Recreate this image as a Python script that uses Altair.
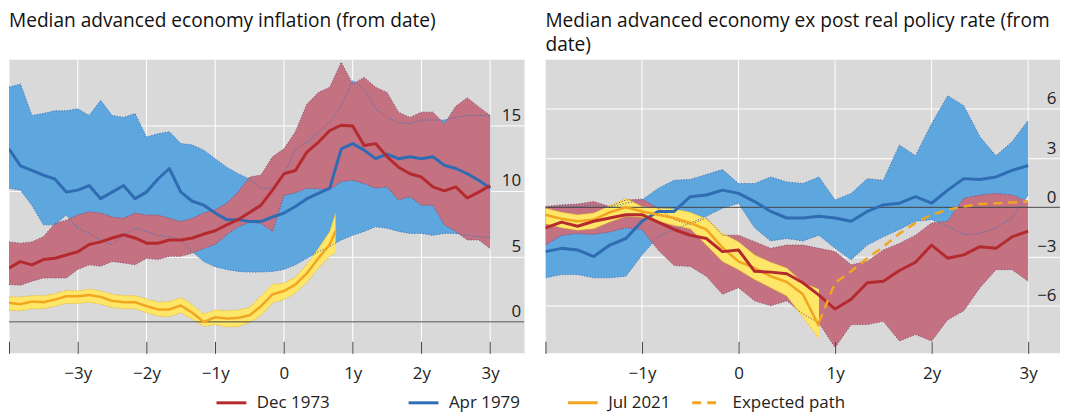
import altair as alt
import pandas as pd

# ---------------- data ----------------
PAST = ["Dec 1973", "Apr 1979"]
NOW = ["Jul 2021", "Expected path"]

# Left panel: inflation, months from date, every 2 months
L_MONTHS = list(range(-48, 37, 2))
apr79_inf_med = [13.2, 11.9, 11.55, 11.2, 10.9, 9.9, 10.05, 10.4, 9.4, 9.9, 10.4, 9.4, 9.9, 10.9, 11.7,
                 9.9, 9.2, 8.9, 8.3, 7.8, 7.8, 7.65, 7.65, 8.0, 8.3, 8.8, 9.4, 9.8, 10.2, 13.2, 13.6, 13.1,
                 12.45, 12.8, 12.45, 12.6, 12.45, 12.6, 11.95, 11.7, 11.3, 10.8, 10.2]
apr79_inf_hi = [17.9, 18.15, 15.75, 15.9, 16.1, 16.1, 16.25, 15.75, 16.9, 15.75, 15.6, 15.9, 14.1, 14.35,
                14.5, 13.6, 13.5, 13.1, 12.45, 11.8, 11.3, 10.9, 10.2, 10.2, 11.2, 13.2, 13.7, 14.5, 15.2,
                16.5, 18.4, 17.8, 16.25, 15.6, 15.2, 15.1, 15.4, 15.4, 15.4, 15.6, 15.75, 15.75, 15.75]
apr79_inf_lo = [10.2, 10.05, 8.9, 7.4, 7.4, 8.15, 7.15, 6.75, 6.25, 5.9, 6.6, 7.15, 6.9, 6.6, 6.5, 6.25,
                5.35, 4.6, 4.2, 4.0, 3.85, 3.8, 3.8, 3.85, 4.0, 4.35, 4.85, 5.35, 5.75, 6.25, 6.6, 6.9,
                7.25, 7.15, 6.9, 6.75, 6.75, 6.6, 6.75, 6.75, 6.6, 6.5, 6.4]
dec73_inf_med = [4.1, 4.6, 4.35, 4.75, 4.85, 5.1, 5.35, 5.9, 6.1, 6.4, 6.65, 6.4, 6.0, 6.0, 6.25, 6.25,
                 6.4, 6.7, 6.95, 7.4, 7.8, 8.35, 8.9, 10.05, 11.3, 11.55, 12.95, 13.7, 14.6, 15.0, 14.95,
                 13.45, 13.6, 12.6, 11.8, 11.3, 11.05, 10.3, 10.0, 10.3, 9.45, 9.9, 10.4]
dec73_inf_hi = [6.1, 6.0, 6.1, 6.5, 7.5, 7.75, 8.15, 8.4, 8.3, 8.0, 7.9, 8.3, 8.15, 8.15, 7.9, 7.65, 7.9,
                8.3, 8.55, 9.05, 9.9, 11.05, 11.2, 12.6, 13.2, 14.5, 16.6, 17.5, 17.9, 19.8, 18.15, 18.65,
                17.9, 17.5, 16.0, 15.6, 16.0, 16.0, 15.1, 16.45, 17.1, 16.4, 15.75]
dec73_inf_lo = [2.85, 2.8, 3.1, 3.35, 3.35, 3.35, 4.0, 4.35, 4.25, 4.6, 4.5, 4.35, 4.85, 4.75, 5.0, 5.0,
                5.25, 5.6, 5.9, 6.65, 7.25, 7.6, 7.5, 6.9, 9.65, 9.85, 10.2, 10.15, 10.1, 10.7, 10.8,
                10.55, 10.2, 10.3, 9.3, 9.55, 8.9, 8.9, 7.4, 6.9, 6.25, 6.25, 5.6]
JUL21_INF_MONTHS = list(range(-48, 9, 2)) + [9]
jul21_inf_med = [1.45, 1.35, 1.55, 1.5, 1.7, 1.95, 1.95, 2.05, 1.9, 1.6, 1.5, 1.5, 1.2, 0.95, 0.95, 1.25,
                 0.7, 0.0, 0.35, 0.25, 0.3, 0.5, 1.2, 2.1, 2.35, 2.85, 3.7, 4.85, 5.9, 6.95]
jul21_inf_hi = [1.9, 1.9, 2.0, 2.0, 2.15, 2.4, 2.35, 2.5, 2.35, 2.1, 2.0, 2.0, 1.75, 1.5, 1.55, 1.85, 1.3,
                0.6, 0.9, 0.85, 0.9, 1.1, 2.0, 2.85, 2.95, 3.4, 4.4, 5.6, 6.9, 8.3]
jul21_inf_lo = [0.9, 0.85, 1.0, 1.0, 1.2, 1.4, 1.4, 1.5, 1.35, 1.1, 1.0, 1.0, 0.7, 0.45, 0.4, 0.7, 0.2,
                -0.35, -0.2, -0.4, -0.35, -0.05, 0.5, 1.45, 1.7, 2.2, 3.0, 4.1, 5.0, 5.3]

# Right panel: ex post real policy rate
R_MONTHS = list(range(-24, 37, 2))
apr79_rr_med = [-2.7, -2.5, -2.6, -3.0, -2.3, -1.9, -0.85, -0.25, -0.25, 0.65, 0.75, 1.05, 0.85, 0.35,
                -0.25, -0.65, -0.65, -0.55, -0.65, -0.85, -0.25, 0.15, 0.25, 0.65, 0.25, 1.05, 1.75, 1.7,
                1.85, 2.25, 2.55]
apr79_rr_hi = [-0.05, 0.1, 0.05, 0.15, 0.0, 0.25, 0.45, 1.15, 1.65, 1.7, 2.0, 2.3, 1.45, 1.45, 1.85, 1.55,
               1.45, 1.85, 0.45, 0.85, 1.75, 1.65, 3.8, 3.15, 5.1, 6.8, 6.2, 4.3, 3.15, 4.0, 5.3]
apr79_rr_lo = [-4.3, -4.1, -4.1, -4.3, -4.3, -4.2, -2.9, -1.8, -1.35, -0.95, -0.55, -0.05, 0.25, -1.25,
               -2.05, -1.9, -2.05, -1.7, -2.5, -3.2, -2.3, -1.8, -1.35, -0.85, -0.75, -1.15, -1.65, -1.6,
               -1.25, -0.65, 0.75]
dec73_rr_med = [-1.25, -0.9, -1.15, -0.85, -0.65, -0.45, -0.45, -0.9, -1.35, -1.7, -1.9, -2.7, -2.6, -3.9,
                -3.95, -4.05, -4.6, -5.35, -6.2, -5.6, -4.6, -4.5, -3.85, -3.35, -2.3, -3.1, -2.9, -2.4,
                -2.5, -1.8, -1.45]
dec73_rr_hi = [0.05, 0.15, 0.2, 0.35, 0.05, 0.45, 0.5, -0.05, -0.75, -1.05, -0.65, -1.7, -1.7, -2.1, -2.5,
               -2.3, -2.3, -2.5, -2.7, -3.5, -3.3, -2.6, -2.2, -1.7, -0.95, -0.85, 0.55, 0.75, 0.85, 0.75,
               0.35]
dec73_rr_lo = [-2.3, -1.7, -1.6, -1.65, -1.5, -1.25, -1.35, -2.6, -3.55, -3.6, -4.2, -5.3, -4.9, -5.7, -6.0,
               -5.7, -6.5, -7.05, -8.55, -7.15, -7.15, -6.95, -8.15, -7.75, -8.15, -6.85, -6.3, -4.9,
               -3.8, -3.8, -4.5]
JUL21_RR_MONTHS = list(range(-24, 11, 2))
jul21_rr_med = [-0.45, -0.7, -0.85, -0.75, -0.3, 0.0, -0.25, -0.45, -0.65, -0.95, -1.35, -2.45, -3.3,
                -3.7, -4.2, -4.55, -5.3, -7.25]
jul21_rr_hi = [-0.05, -0.3, -0.45, -0.35, 0.1, 0.55, 0.05, -0.05, -0.1, -0.3, -0.7, -1.6, -2.1, -2.9,
               -3.35, -3.7, -4.6, -5.0]
jul21_rr_lo = [-1.0, -1.25, -1.4, -1.3, -0.9, -0.55, -0.6, -0.85, -1.1, -1.3, -2.3, -3.3, -3.8, -4.4,
               -4.9, -5.4, -6.7, -8.0]
EXP_MONTHS = list(range(10, 37, 2))
expected_path = [-7.0, -4.6, -3.9, -3.1, -2.4, -1.6, -0.95, -0.45, -0.15, 0.05, 0.2, 0.25, 0.3, 0.35]

L_XTICKS = [-4, -3, -2, -1, 0, 1, 2, 3]
R_XTICKS = [-2, -1, 0, 1, 2, 3]
L_YTICKS = [0, 5, 10, 15]
R_YTICKS = [-9, -6, -3, 0, 3, 6]

# ---------------- styles ----------------
FONT = "Open Sans"
BG = "#d9d9d9"
BLUE_BAND, RED_BAND, YEL_BAND = "#5ea6de", "#c47282", "#fde668"
BLUE_EDGE, RED_EDGE, YEL_EDGE = "#3b74b8", "#8f4a6e", "#e9b51f"
RED, BLUE, ORANGE = "#b52a2f", "#2f6cb3", "#f2a521"

LEG = dict(title=None, orient="none", direction="horizontal", symbolType="stroke", symbolSize=900,
           symbolStrokeWidth=3, labelFont=FONT, labelFontSize=17, labelColor="#222", labelOffset=9)
legend_past = alt.Legend(legendX=207, legendY=328, columnPadding=72, **LEG)
legend_now = alt.Legend(legendX=560, legendY=328, columnPadding=15, **LEG)
past_color = alt.Color("series:N", scale=alt.Scale(domain=PAST, range=[RED, BLUE]), legend=legend_past)
now_stroke = alt.Stroke("series:N", scale=alt.Scale(domain=NOW, range=[ORANGE, ORANGE]), legend=legend_now)
now_dash = alt.StrokeDash("series:N", scale=alt.Scale(domain=NOW, range=[[1, 0], [9, 6]]), legend=legend_now)


def band_df(months, lo, hi):
    return pd.DataFrame({"x": [m / 12 for m in months], "lo": lo, "hi": hi})


def line_df(months, vals, name):
    return pd.DataFrame({"x": [m / 12 for m in months], "v": vals, "series": name})


def panel(bands, lines, x_dom, y_dom, x_ticks, y_ticks, width, title, title_offset):
    xs = alt.Scale(domain=x_dom, nice=False, zero=False, padding=0)
    ys = alt.Scale(domain=y_dom, nice=False, zero=False, padding=0)
    first = x_ticks[0]
    label_expr = (f"datum.value <= {first} ? '' : datum.value == 0 ? '0' : "
                  "datum.value < 0 ? '\u2212' + (-datum.value) + 'y' : datum.value + 'y'")
    x_axis = alt.Axis(values=x_ticks, grid=False, domain=False, ticks=True, tickColor="#444",
                      tickSize=12, offset=-12, labelExpr=label_expr, labelFont=FONT, labelFontSize=17,
                      labelColor="#222", labelPadding=12, labelFlush=False, title=None, zindex=1)
    y_axis = alt.Axis(values=y_ticks, orient="right", grid=True, gridColor="white", gridWidth=1,
                      domain=False, ticks=False, tickSize=0, labelAlign="right", labelBaseline="bottom",
                      labelPadding=-4, labelOffset=-1, labelFont=FONT, labelFontSize=17,
                      labelColor="#222", title=None, zindex=0)

    layers = []
    layers.append(alt.Chart(pd.DataFrame({"v": x_ticks})).mark_rule(
        color="white", strokeWidth=1, clip=True).encode(x=alt.X("v:Q", scale=xs, axis=x_axis)))
    for df, fill, _ in bands:
        layers.append(alt.Chart(df).mark_area(color=fill, opacity=1, clip=True).encode(
            x=alt.X("x:Q", scale=xs, axis=x_axis), y=alt.Y("lo:Q", scale=ys, axis=y_axis), y2="hi:Q"))
    for df, _, edge in bands:
        for col in ("lo", "hi"):
            layers.append(alt.Chart(df).mark_line(
                color=edge, strokeWidth=1, strokeDash=[1.2, 1.6], clip=True, strokeJoin="round").encode(
                x=alt.X("x:Q", scale=xs, axis=x_axis), y=alt.Y(f"{col}:Q", scale=ys, axis=y_axis)))
    layers.append(alt.Chart(pd.DataFrame({"z": [0]})).mark_rule(
        color="#444", strokeWidth=1, clip=True).encode(y=alt.Y("z:Q", scale=ys, axis=y_axis)))
    for df, w, kind in lines:
        enc = dict(x=alt.X("x:Q", scale=xs, axis=x_axis), y=alt.Y("v:Q", scale=ys, axis=y_axis))
        if kind == "past":
            enc["color"] = past_color
        else:
            enc["stroke"] = now_stroke
            enc["strokeDash"] = now_dash
        layers.append(alt.Chart(df).mark_line(strokeWidth=w, clip=True, strokeJoin="round").encode(**enc))
    return alt.layer(*layers).properties(
        width=width, height=295,
        title=alt.TitleParams(title, anchor="start", font=FONT, fontSize=19.2, fontWeight="normal",
                              color="#111", offset=title_offset, lineHeight=24, frame="group"))


left = panel(
    bands=[(band_df(L_MONTHS, apr79_inf_lo, apr79_inf_hi), BLUE_BAND, BLUE_EDGE),
           (band_df(L_MONTHS, dec73_inf_lo, dec73_inf_hi), RED_BAND, RED_EDGE),
           (band_df(JUL21_INF_MONTHS, jul21_inf_lo, jul21_inf_hi), YEL_BAND, YEL_EDGE)],
    lines=[(line_df(L_MONTHS, apr79_inf_med, "Apr 1979"), 3, "past"),
           (line_df(L_MONTHS, dec73_inf_med, "Dec 1973"), 3, "past"),
           (line_df(JUL21_INF_MONTHS, jul21_inf_med, "Jul 2021"), 2.5, "now")],
    x_dom=[-4, 3.5], y_dom=[-2.4, 20], x_ticks=L_XTICKS, y_ticks=L_YTICKS, width=518,
    title="Median advanced economy inflation (from date)", title_offset=29)

right = panel(
    bands=[(band_df(R_MONTHS, apr79_rr_lo, apr79_rr_hi), BLUE_BAND, BLUE_EDGE),
           (band_df(R_MONTHS, dec73_rr_lo, dec73_rr_hi), RED_BAND, RED_EDGE),
           (band_df(JUL21_RR_MONTHS, jul21_rr_lo, jul21_rr_hi), YEL_BAND, YEL_EDGE)],
    lines=[(line_df(R_MONTHS, apr79_rr_med, "Apr 1979"), 3, "past"),
           (line_df(JUL21_RR_MONTHS, jul21_rr_med, "Jul 2021"), 2.5, "now"),
           (line_df(R_MONTHS, dec73_rr_med, "Dec 1973"), 3, "past"),
           (line_df(EXP_MONTHS, expected_path, "Expected path"), 2.5, "now")],
    x_dom=[-2, 3.33], y_dom=[-8.9, 9], x_ticks=R_XTICKS, y_ticks=R_YTICKS, width=517,
    title=["Median advanced economy ex post real policy rate (from", "date)"], title_offset=5)

chart = alt.hconcat(left, right, spacing=21, bounds="flush").properties(
    padding={"top": 2, "left": 0, "right": 0, "bottom": 0}, background="white"
).configure_view(fill=BG, stroke=None)

chart.save("out.html", embed_options={"renderer": "svg", "actions": False})
